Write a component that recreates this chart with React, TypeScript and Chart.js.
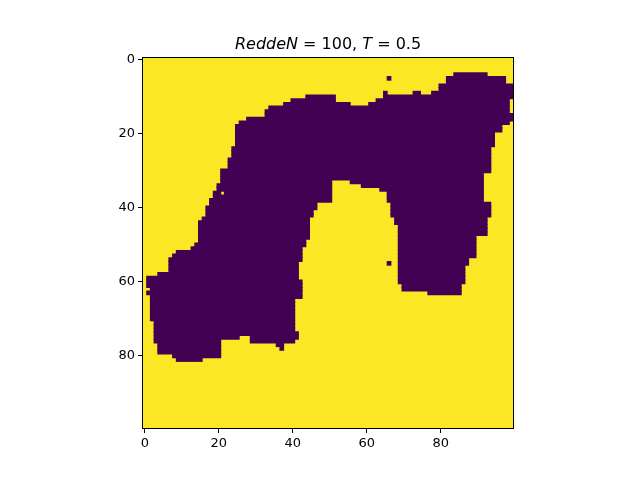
import React, { useEffect, useRef } from 'react';
import { Chart, registerables } from 'chart.js';

Chart.register(...registerables);

// lattice is 100 x 100, row 0 at the top
const rowLabels = Array.from({ length: 100 }, (_, i) => String(i));
const tickValues = [0, 20, 40, 60, 80];

const titleParts = [
  { text: 'ReddeN', italic: true },
  { text: ' = 100, ', italic: false },
  { text: 'T', italic: true },
  { text: ' = 0.5', italic: false },
];

// spin-down cells, one run per entry: [row, first col, end col (exclusive)]
const downRuns: [number, number, number][] = [
  [4, 84, 93],
  [5, 66, 67], [5, 82, 98],
  [6, 82, 98],
  [7, 80, 100],
  [8, 80, 100],
  [9, 65, 66], [9, 73, 75], [9, 78, 100],
  [10, 44, 52], [10, 65, 100],
  [11, 40, 52], [11, 63, 99],
  [12, 38, 56], [12, 61, 99],
  [13, 34, 99],
  [14, 33, 99],
  [15, 33, 100],
  [16, 28, 100],
  [17, 26, 99],
  [18, 25, 97], [19, 25, 97],
  [20, 25, 95], [21, 25, 95], [22, 25, 95], [23, 25, 95],
  [24, 24, 94], [25, 24, 94], [26, 24, 94],
  [27, 23, 94], [28, 23, 94], [29, 23, 94],
  [30, 21, 94],
  [31, 21, 92], [32, 21, 92],
  [33, 21, 51], [33, 56, 92],
  [34, 20, 51], [34, 59, 92],
  [35, 20, 51], [35, 64, 92],
  [36, 19, 21], [36, 22, 51], [36, 66, 92],
  [37, 19, 51], [37, 66, 92],
  [38, 18, 51], [38, 66, 92],
  [39, 18, 47], [39, 67, 94],
  [40, 17, 47], [40, 67, 94],
  [41, 17, 46], [41, 67, 94],
  [42, 17, 46], [42, 67, 94],
  [43, 16, 45], [43, 68, 93],
  [44, 15, 45], [44, 68, 93],
  [45, 15, 45], [45, 69, 93],
  [46, 15, 45], [46, 69, 93],
  [47, 15, 45], [47, 69, 93],
  [48, 15, 45], [48, 69, 90],
  [49, 15, 44], [49, 69, 90],
  [50, 14, 44], [50, 69, 90],
  [51, 13, 43], [51, 69, 90],
  [52, 9, 43], [52, 69, 90],
  [53, 8, 43], [53, 69, 90],
  [54, 7, 43], [54, 69, 88],
  [55, 7, 42], [55, 66, 67], [55, 69, 88],
  [56, 7, 42], [56, 69, 87],
  [57, 7, 42], [57, 69, 87],
  [58, 4, 42], [58, 69, 87],
  [59, 1, 42], [59, 69, 87],
  [60, 1, 43], [60, 69, 87],
  [61, 1, 43], [61, 70, 86],
  [62, 2, 43], [62, 70, 86],
  [63, 1, 43], [63, 77, 86],
  [64, 2, 43],
  [65, 2, 41], [66, 2, 41], [67, 2, 41], [68, 2, 41], [69, 2, 41], [70, 2, 41],
  [71, 3, 41], [72, 3, 41], [73, 3, 41],
  [74, 3, 42],
  [75, 3, 26], [75, 29, 42],
  [76, 3, 21], [76, 29, 41],
  [77, 4, 21], [77, 36, 38],
  [78, 4, 21], [78, 37, 38],
  [79, 4, 21],
  [80, 8, 21],
  [81, 9, 16],
];

const PURPLE = '#440154';
const YELLOW = '#fde725';
const FONT = 'DejaVu Sans';

// frame round the image plus the mathtext-like title
const framePlugin = {
  id: 'frameAndTitle',
  afterDraw(chart: Chart) {
    const { ctx, chartArea } = chart;
    const { left, top, right, bottom } = chartArea;
    ctx.save();
    ctx.strokeStyle = '#000';
    ctx.lineWidth = 1;
    ctx.strokeRect(left - 0.5, top - 0.5, right - left + 1, bottom - top + 1);

    const fontFor = (italic: boolean) => `${italic ? 'italic ' : ''}16px "${FONT}"`;
    let total = 0;
    for (const p of titleParts) {
      ctx.font = fontFor(p.italic);
      total += ctx.measureText(p.text).width;
    }
    let x = (left + right) / 2 - total / 2;
    const y = top - 9.5;
    ctx.fillStyle = '#000';
    ctx.textBaseline = 'alphabetic';
    ctx.textAlign = 'left';
    for (const p of titleParts) {
      ctx.font = fontFor(p.italic);
      ctx.fillText(p.text, x, y);
      x += ctx.measureText(p.text).width;
    }
    ctx.restore();
  },
};

export default function App() {
  const canvasRef = useRef<HTMLCanvasElement>(null);

  useEffect(() => {
    if (!canvasRef.current) return;

    Chart.defaults.font.family = FONT;
    Chart.defaults.color = '#000';

    const chart = new Chart(canvasRef.current, {
      type: 'bar',
      data: {
        labels: rowLabels,
        datasets: [
          {
            // spin-down cells on top
            label: 'down',
            data: downRuns.map(([r, a, b]) => ({ y: String(r), x: [a - 0.5, b - 0.5] })),
            backgroundColor: PURPLE,
            borderWidth: 0,
            grouped: false,
            barPercentage: 1,
            categoryPercentage: 1,
            inflateAmount: 0.5,
            order: 1,
          },
          {
            // spin-up lattice underneath
            label: 'up',
            data: rowLabels.map((r) => ({ y: r, x: [-0.5, rowLabels.length - 0.5] })),
            backgroundColor: YELLOW,
            borderWidth: 0,
            grouped: false,
            barPercentage: 1,
            categoryPercentage: 1,
            inflateAmount: 0.5,
            order: 2,
          },
        ] as any,
      },
      options: {
        indexAxis: 'y',
        responsive: false,
        animation: false,
        layout: { padding: { left: 103, right: 127, top: 58, bottom: 22 } },
        plugins: {
          legend: { display: false },
          title: { display: false },
          tooltip: { enabled: false },
        },
        scales: {
          x: {
            type: 'linear',
            min: -0.5,
            max: 99.5,
            afterBuildTicks: (s: any) => {
              s.ticks = tickValues.map((v) => ({ value: v }));
            },
            afterFit: (s: any) => {
              s.height = 30;
            },
            ticks: { autoSkip: false, maxRotation: 0, padding: 3, color: '#000', font: { size: 13 } },
            grid: { drawOnChartArea: false, drawTicks: true, tickLength: 5, color: '#000' },
            border: { display: true, color: '#000' },
          },
          y: {
            type: 'category',
            offset: true,
            afterBuildTicks: (s: any) => {
              s.ticks = tickValues.map((v) => ({ value: v }));
            },
            afterFit: (s: any) => {
              s.width = 40;
            },
            ticks: { autoSkip: false, padding: 3, color: '#000', font: { size: 13 } },
            grid: { offset: false, drawOnChartArea: false, drawTicks: true, tickLength: 5, color: '#000' },
            border: { display: true, color: '#000' },
          },
        },
      },
      plugins: [framePlugin],
    });

    return () => {
      chart.destroy();
    };
  }, []);

  return (
    <div style={{ position: 'absolute', left: 0, top: 0, width: 640, height: 480, background: '#fff' }}>
      <canvas ref={canvasRef} width={640} height={480}></canvas>
    </div>
  );
}
